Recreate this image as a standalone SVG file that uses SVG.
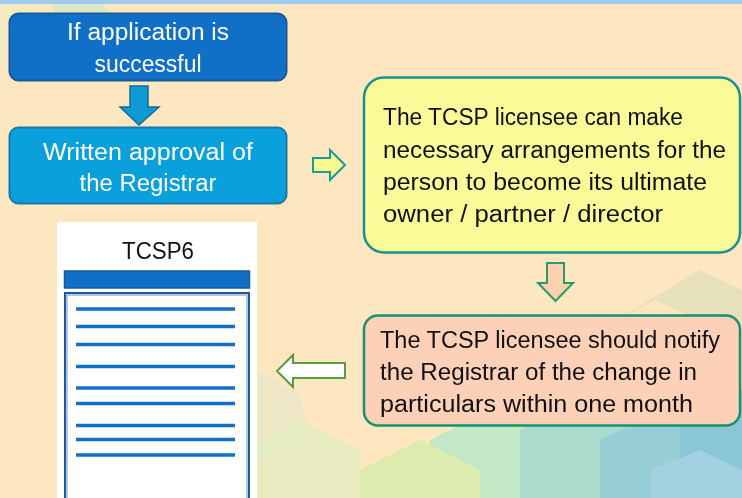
<svg xmlns="http://www.w3.org/2000/svg" width="742" height="498" viewBox="0 0 742 498">
<style>
.t{font-family:"Liberation Sans",Arial,sans-serif;font-size:23px}
.w{fill:#ffffff}
.k{fill:#111111}
.ln{stroke:#1070c8;stroke-width:3.5}
</style>
<rect x="0" y="0" width="742" height="498" fill="#fde7c0"/>
<g id="background" opacity="0.45">
<polygon points="50,0 100,0 120,25 95,40 60,30" fill="#b8e6c8"/>
<polygon points="0,0 40,0 30,40 0,60" fill="#e8eec8"/>
<polygon points="600,330 655,300 720,330 742,320 742,290 700,270" fill="#b8d4b0" opacity="0.7"/>
<polygon points="257,370 300,395 310,440 257,460" fill="#d0e8d0" opacity="0.7"/>
</g>
<g id="background2" opacity="0.7">
<polygon points="250,450 300,420 360,450 360,498 250,498" fill="#e0eec0"/>
<polygon points="430,440 490,410 550,440 550,498 430,498" fill="#a8e8c8"/>
<polygon points="360,470 420,440 480,470 480,498 360,498" fill="#d0f0a8"/>
<polygon points="520,430 580,400 640,430 640,498 520,498" fill="#88d8d0"/>
<polygon points="600,440 660,410 720,440 720,498 600,498" fill="#6cc4e0"/>
<polygon points="680,420 742,390 742,498 680,498" fill="#58b8e0"/>
<polygon points="650,470 700,450 742,470 742,498 650,498" fill="#7cc8f0"/>
</g>
<rect x="0" y="0" width="742" height="4" fill="#9ecaf2"/>

<g id="connectors">
<polygon points="130,86 148,86 148,107 159,107 139,125 120,107 130,107" fill="#0e9ad4" stroke="#17699a" stroke-width="1.5"/>
<polygon points="313,158 330,158 330,150 345,165 330,180 330,172 313,172" fill="#fafa90" stroke="#1a9a9a" stroke-width="2"/>
<polygon points="547,263 564,263 564,283 573,283 555.5,301 538,283 547,283" fill="#fdd0b0" stroke="#2a9a6a" stroke-width="2"/>
<polygon points="345,363 293,363 293,355 277,371 293,387 293,378 345,378" fill="#ffffff" stroke="#5a9a40" stroke-width="2"/>
</g>

<g id="n1">
<rect x="9.5" y="13.5" width="277" height="67" rx="9" fill="#1070c8" stroke="#1a5a9a" stroke-width="2"/>
<text class="t w" x="148" y="40" text-anchor="middle" textLength="162" lengthAdjust="spacingAndGlyphs">If application is</text>
<text class="t w" x="148" y="72" text-anchor="middle" textLength="107" lengthAdjust="spacingAndGlyphs">successful</text>
</g>

<g id="n2">
<rect x="9.5" y="127.5" width="277" height="76" rx="9" fill="#0aa0dc" stroke="#1a78a8" stroke-width="2"/>
<text class="t w" x="148" y="160" text-anchor="middle" textLength="210" lengthAdjust="spacingAndGlyphs">Written approval of</text>
<text class="t w" x="148" y="191" text-anchor="middle" textLength="137" lengthAdjust="spacingAndGlyphs">the Registrar</text>
</g>

<g id="n3">
<rect x="364" y="77.5" width="376" height="175" rx="20" fill="#fafa98" stroke="#1a9090" stroke-width="2.5"/>
<text class="t k" x="383" y="125" textLength="300" lengthAdjust="spacingAndGlyphs">The TCSP licensee can make</text>
<text class="t k" x="383" y="158" textLength="343" lengthAdjust="spacingAndGlyphs">necessary arrangements for the</text>
<text class="t k" x="383" y="190" textLength="324" lengthAdjust="spacingAndGlyphs">person to become its ultimate</text>
<text class="t k" x="383" y="222" textLength="280" lengthAdjust="spacingAndGlyphs">owner / partner / director</text>
</g>

<g id="n4">
<rect x="364" y="315.5" width="376" height="110" rx="14" fill="#fdd0b8" stroke="#1a9070" stroke-width="2.5"/>
<text class="t k" x="380" y="348" textLength="340" lengthAdjust="spacingAndGlyphs">The TCSP licensee should notify</text>
<text class="t k" x="380" y="380" textLength="317" lengthAdjust="spacingAndGlyphs">the Registrar of the change in</text>
<text class="t k" x="380" y="412" textLength="313" lengthAdjust="spacingAndGlyphs">particulars within one month</text>
</g>

<g id="n5">
<rect x="57" y="222" width="200" height="276" fill="#ffffff"/>
<text class="t k" x="158" y="259" text-anchor="middle" font-size="24" textLength="72" lengthAdjust="spacingAndGlyphs">TCSP6</text>
<rect x="64.5" y="271" width="185" height="17" fill="#1070c8" stroke="#1a5a9a" stroke-width="1.5"/>
<rect x="65" y="293" width="184" height="210" fill="#ffffff" stroke="#1a5a9a" stroke-width="2"/>
<rect x="67" y="295" width="180" height="210" fill="none" stroke="#7090b8" stroke-width="1"/>
<line class="ln" x1="76" y1="309" x2="235" y2="309"/>
<line class="ln" x1="76" y1="326.5" x2="235" y2="326.5"/>
<line class="ln" x1="76" y1="344.5" x2="235" y2="344.5"/>
<line class="ln" x1="76" y1="366.5" x2="235" y2="366.5"/>
<line class="ln" x1="76" y1="388" x2="235" y2="388"/>
<line class="ln" x1="76" y1="403.5" x2="235" y2="403.5"/>
<line class="ln" x1="76" y1="425.5" x2="235" y2="425.5"/>
<line class="ln" x1="76" y1="439.5" x2="235" y2="439.5"/>
<line class="ln" x1="76" y1="455" x2="235" y2="455"/>
</g>
</svg>
